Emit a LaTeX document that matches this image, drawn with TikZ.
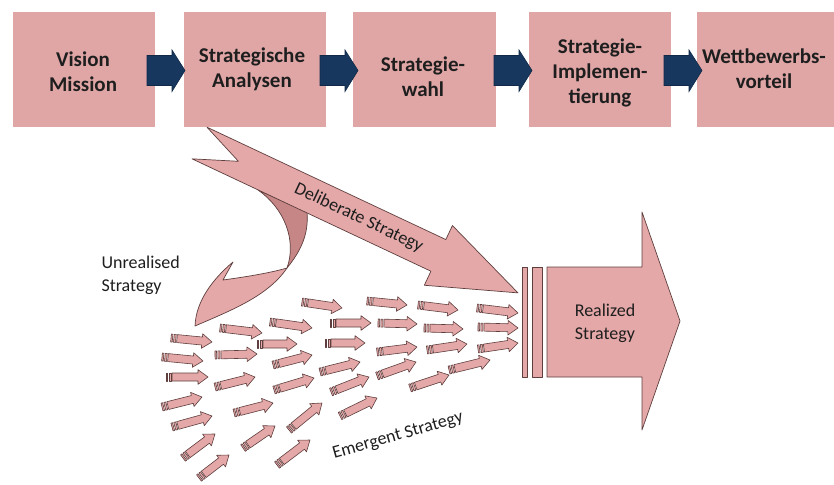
\documentclass[tikz,border=0pt]{standalone}
\usepackage{fontspec}
\setmainfont{Carlito}
\definecolor{boxpink}{RGB}{224,166,166}
\definecolor{arrpink}{RGB}{228,168,168}
\definecolor{navy}{RGB}{23,55,94}
\definecolor{edgecol}{RGB}{95,62,62}
\definecolor{darkpink}{RGB}{198,134,134}
\definecolor{txt}{RGB}{30,30,30}
\begin{document}
\begin{tikzpicture}[x=1pt,y=-1pt,
  topbox/.style={fill=boxpink, draw=none, inner sep=0pt},
  toptext/.style={font=\fontsize{21}{25}\selectfont\bfseries, align=center, text=txt},
  navyarrow/.style={fill=navy, draw=navy!75!black, line width=0.6pt, line join=miter},
  bigarrow/.style={fill=arrpink, draw=edgecol, line width=0.7pt, line join=round},
  smallarrow/.style={fill=arrpink, draw=edgecol, line width=0.6pt, line join=round},
  lbl/.style={font=\fontsize{18}{23}\selectfont, text=txt}]
\useasboundingbox (0,0) rectangle (834,484);

% top boxes
\path[topbox] (13,12) rectangle (155,127) coordinate (b1se);
\node[topbox, minimum width=142pt, minimum height=115pt] (b1) at (84,69.5) {};
\node[topbox, minimum width=142pt, minimum height=115pt] (b2) at (255,69.5) {};
\node[topbox, minimum width=143pt, minimum height=115pt] (b3) at (424.5,69.5) {};
\node[topbox, minimum width=142pt, minimum height=115pt] (b4) at (600,69.5) {};
\node[topbox, minimum width=140pt, minimum height=115pt] (b5) at (767,69.5) {};

\node[toptext] (t1) at (83,72) {Vision\\Mission};
\node[toptext] (t2) at (252,69) {Strategische\\Analysen};
\node[toptext] (t3) at (423,77) {Strategie-\\wahl};
\node[toptext] (t4) at (600,72.5) {Strategie-\\Implemen-\\tierung};
\node[toptext] (t5) at (764,68.5) {Wettbewerbs-\\vorteil};

% navy block arrows between boxes
\foreach \xs in {147,320,494,664}{
  \draw[navyarrow] (\xs,55.5) -- (\xs+25,55.5) -- (\xs+25,50) -- (\xs+38,70.5)
     -- (\xs+25,91.5) -- (\xs+25,85.5) -- (\xs,85.5) -- cycle;
}

% unrealised curved arrow (behind deliberate arrow)
\draw[bigarrow, fill=darkpink] (258,190) .. controls (284,208) and (297,240) .. (287,268)
   .. controls (300,252) and (309,235) .. (307,212) -- cycle;
\draw[bigarrow] (287,268) .. controls (268,296) and (232,310) .. (195,326)
   .. controls (196,300) and (214,278) .. (233,262) -- (223,280)
   .. controls (245,277) and (270,273) .. (287,268) -- cycle;

% deliberate strategy arrow
\begin{scope}[shift={(199.5,143)}, rotate=-25.2]
  \draw[bigarrow] (0,-17.5) -- (264,-17.5) -- (264,-33) -- (352,0) -- (264,33)
     -- (264,17.5) -- (0,17.5) -- (43,0) -- cycle;
  \node[lbl, rotate=-25.2] (delib) at (176,0) {Deliberate Strategy};
\end{scope}

% emergent small arrows
\foreach \xa/\ya/\xb/\yb in {302/302/342/308, 367/301/407/305, 418/305/458/310, 477/308/518/313,
  220/328/262/333, 270/322/312/328, 330/323/371/323, 378/323/417/324, 424/328/463/329, 478/327/518/328,
  171/338/212/342, 257/344/297/344, 325/343/365/343, 377/352/417/347, 427/350/467/344, 478/349/518/343,
  162/357/203/361, 215/355/257/354, 273/365/312/355, 320/372/360/362, 377/376/416/362, 449/370/490/360,
  166/377/208/377, 215/387/255/377, 274/390/314/378, 331/392/369/377, 410/388/449/375,
  162/407/202/397, 234/413/273/403, 340/416/377/398, 172/427/212/416, 289/430/322/403,
  183/458/215/434, 243/448/275/426, 199/478/229/455, 277/465/310/440}{
  \pgfmathsetmacro\ang{atan2(\ya-\yb,\xb-\xa)}
  \pgfmathsetmacro\len{veclen(\xb-\xa,\yb-\ya)}
  \begin{scope}[shift={(\xa,\ya)}, rotate=\ang]
    \draw[smallarrow] (6,-4) -- (\len-10,-4) -- (\len-10,-7.3) -- (\len,0) -- (\len-10,7.3)
       -- (\len-10,4) -- (6,4) -- cycle;
    \draw[smallarrow] (0,-4) rectangle (1.6,4);
    \draw[smallarrow] (2.9,-4) rectangle (4.9,4);
  \end{scope}
}

% realized strategy
\draw[bigarrow] (522,267) rectangle (527,377);
\draw[bigarrow] (532,267) rectangle (542,377);
\draw[bigarrow] (547,267) -- (642,267) -- (642,212) -- (680,321) -- (642,430) -- (642,377)
   -- (547,377) -- cycle;
\node[lbl, align=center] (real) at (605,323) {Realized\\Strategy};

% labels
\node[lbl, align=left, anchor=west] (unreal) at (98,275) {Unrealised\\Strategy};
\node[lbl, rotate=16] (emerg) at (398,436) {Emergent Strategy};
\end{tikzpicture}
\end{document}
